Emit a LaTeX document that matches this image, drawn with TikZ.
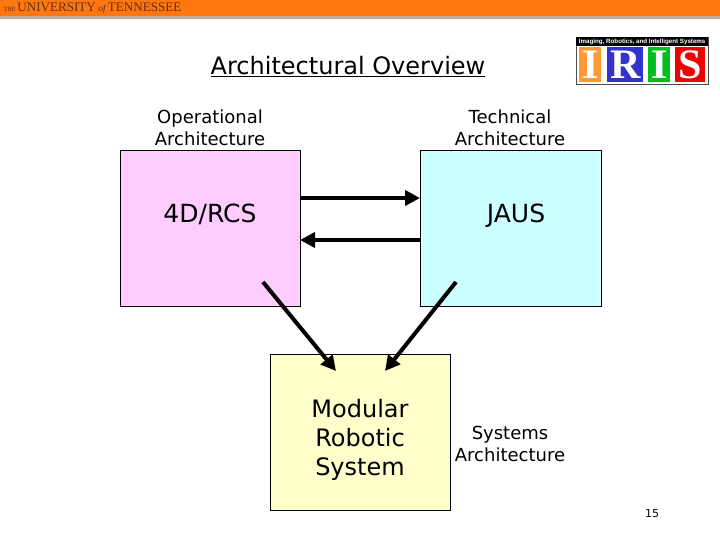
\documentclass[tikz,border=0pt]{standalone}
\usepackage{xcolor}
\usepackage{fontspec}
\setmainfont{DejaVu Sans}
\newfontfamily\logofont{Liberation Serif}
\newfontfamily\stripfont{Liberation Sans}
\definecolor{operational}{RGB}{255,204,255}
\definecolor{technical}{RGB}{204,255,255}
\definecolor{systems}{RGB}{255,255,204}
\definecolor{banner}{RGB}{255,117,15}
\definecolor{bannerline}{RGB}{190,175,160}
\definecolor{bannertext}{RGB}{95,50,20}
\definecolor{tileorange}{RGB}{255,153,51}
\definecolor{tileblue}{RGB}{51,51,204}
\definecolor{tilegreen}{RGB}{0,190,30}
\definecolor{tilered}{RGB}{240,0,0}
\tikzstyle{block}=[draw, line width=.7pt, anchor=north west, inner sep=0pt]
\tikzstyle{caption}=[align=center, font=\fontsize{18}{22}\selectfont]
\tikzstyle{inside}=[align=center, font=\fontsize{24}{29}\selectfont]
\tikzstyle{link}=[-{Triangle[length=15pt,width=15pt]}, line width=4pt]
\tikzstyle{tile}=[anchor=north west, inner sep=0pt, minimum height=35pt, text=white, font=\logofont\bfseries\fontsize{42}{42}\selectfont]
\usetikzlibrary{arrows.meta}

\begin{document}
\begin{tikzpicture}[x=1pt,y=-1pt]
  \useasboundingbox (0,0) rectangle (720,540);

  %% University banner
  \draw (0,0) node[anchor=north west,fill=banner,inner sep=0pt,minimum width=720pt,minimum height=16pt] (bar) {};
  \draw (0,16) node[anchor=north west,fill=bannerline,inner sep=0pt,minimum width=720pt,minimum height=3pt] (barline) {};
  \draw (92.5,8) node[text=bannertext,inner sep=0pt,font=\logofont\fontsize{13.1}{14}\selectfont] (uni) {{\fontsize{6.3}{7}\selectfont THE }UNIVERSITY{\itshape\fontsize{9.4}{10}\selectfont\ of }TENNESSEE};

  %% Logo
  \draw (576,37) node[anchor=north west,draw=black!70,line width=1pt,inner sep=0pt,minimum width=132pt,minimum height=47pt] (logo) {};
  \draw (576,37) node[anchor=north west,fill=black,inner sep=0pt,minimum width=132pt,minimum height=9pt] (strip) {};
  \draw (strip.center) node[text=white,font=\stripfont\bfseries\fontsize{6.2}{7}\selectfont] (striptext) {Imaging, Robotics, and Intelligent Systems};
  \draw (579,47) node[tile,fill=tileorange,minimum width=22pt] (T1) {I};
  \draw (607,47) node[tile,fill=tileblue,minimum width=36pt] (T2) {R};
  \draw (648,47) node[tile,fill=tilegreen,minimum width=22pt] (T3) {I};
  \draw (675,47) node[tile,fill=tilered,minimum width=30pt] (T4) {S};

  %% Title
  \draw (348,67) node[font=\fontsize{24}{28}\selectfont] (title) {\underline{Architectural Overview}};

  %% Blocks
  \draw (120,150) node[block,fill=operational,minimum width=180pt,minimum height=156pt] (P1) {};
  \draw (420,150) node[block,fill=technical,minimum width=181pt,minimum height=156pt] (P2) {};
  \draw (270,354) node[block,fill=systems,minimum width=180pt,minimum height=156pt] (P3) {};

  \draw (210,220) node[inside,anchor=mid,font=\fontsize{25}{29}\selectfont] (rcs) {4D/RCS};
  \draw (516,220) node[inside,anchor=mid,font=\fontsize{25}{29}\selectfont] (jaus) {JAUS};
  \draw (360,439.5) node[inside] (mrs) {Modular\\Robotic\\System};

  \draw (210,128) node[caption] (opcap) {Operational\\Architecture};
  \draw (510,128) node[caption] (techcap) {Technical\\Architecture};
  \draw (510,443.5) node[caption] (syscap) {Systems\\Architecture};
  \draw (652,514) node[font=\fontsize{11}{11}\selectfont] (page) {15};

  %% Free ends of the arrows
  \coordinate (A1) at (300,198);
  \coordinate (B1) at (420,198);
  \coordinate (A2) at (420,240);
  \coordinate (B2) at (300,240);
  \coordinate (A3) at (263,282);
  \coordinate (B3) at (336,371);
  \coordinate (A4) at (456,282);
  \coordinate (B4) at (385,371);

  \draw[link] (A1) -- (B1);
  \draw[link] (A2) -- (B2);
  \draw[link] (A3) -- (B3);
  \draw[link] (A4) -- (B4);
\end{tikzpicture}
\end{document}
